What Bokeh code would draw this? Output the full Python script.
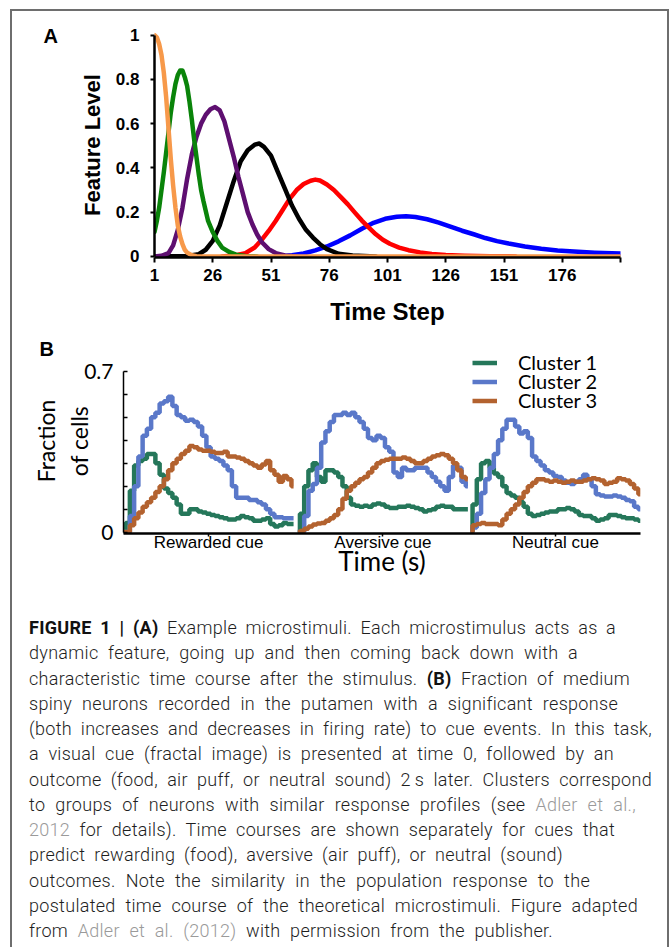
from bokeh.plotting import figure
from bokeh.models import FixedTicker, Legend, LegendItem, Range1d, Div
from bokeh.layouts import column, row
from bokeh.embed import file_html
from bokeh.resources import INLINE

# ---------------- Panel A data (microstimuli) ----------------
A_X_TICKS = [1, 26, 51, 76, 101, 126, 151, 176]
A_Y_TICKS = [0, 0.2, 0.4, 0.6, 0.8, 1]

orange_t = [1, 2, 3, 4, 5, 6, 7, 8, 9, 10, 11, 12, 13, 14, 15, 17, 19, 21, 201]
orange_v = [1.0, 0.99, 0.96, 0.91, 0.83, 0.72, 0.58, 0.44, 0.32, 0.22, 0.14, 0.09,
            0.055, 0.03, 0.017, 0.005, 0.001, 0.0, 0.0]

green_t = [1, 2, 3, 4, 5, 6, 7, 8, 9, 10, 11, 12, 13, 14, 15, 16, 17, 18, 19, 20,
           21, 22, 24, 26, 28, 30, 33, 36, 40, 45]
green_v = [0.11, 0.16, 0.22, 0.30, 0.38, 0.47, 0.56, 0.65, 0.72, 0.78, 0.82, 0.84,
           0.84, 0.81, 0.77, 0.70, 0.62, 0.53, 0.45, 0.37, 0.30, 0.25, 0.16, 0.11,
           0.07, 0.04, 0.02, 0.008, 0.002, 0.0]

purple_t = [1, 4, 7, 9, 11, 13, 15, 17, 19, 21, 23, 25, 27, 29, 31, 33, 35, 37, 39,
            41, 43, 45, 47, 50, 53, 57, 62]
purple_v = [0.0, 0.003, 0.015, 0.05, 0.12, 0.22, 0.35, 0.46, 0.54, 0.60, 0.64, 0.665,
            0.675, 0.66, 0.61, 0.53, 0.45, 0.36, 0.28, 0.20, 0.145, 0.10, 0.065,
            0.033, 0.015, 0.004, 0.0]

black_t = [1, 15, 20, 23, 26, 29, 32, 35, 38, 41, 44, 46, 48, 51, 54, 57, 60, 63,
           66, 69, 72, 75, 80, 86, 96]
black_v = [0.0, 0.002, 0.01, 0.03, 0.07, 0.14, 0.24, 0.34, 0.43, 0.48, 0.505, 0.51,
           0.495, 0.455, 0.38, 0.305, 0.23, 0.17, 0.12, 0.085, 0.055, 0.033, 0.012,
           0.004, 0.0]

red_t = [30, 36, 40, 44, 47, 50, 53, 56, 59, 62, 65, 68, 70, 72, 75, 78, 81, 84, 87,
         90, 93, 96, 99, 102, 106, 110, 115, 120, 126, 134, 145, 156]
red_v = [0.0, 0.005, 0.015, 0.04, 0.075, 0.115, 0.16, 0.21, 0.26, 0.30, 0.327, 0.342,
         0.347, 0.343, 0.325, 0.30, 0.268, 0.235, 0.198, 0.162, 0.13, 0.10, 0.075,
         0.057, 0.04, 0.028, 0.018, 0.011, 0.006, 0.003, 0.001, 0.0]

blue_t = [55, 60, 65, 70, 75, 80, 85, 90, 95, 100, 105, 109, 113, 118, 123, 128, 133,
          138, 143, 148, 153, 160, 167, 174, 181, 190, 201]
blue_v = [0.0, 0.005, 0.013, 0.027, 0.045, 0.068, 0.095, 0.125, 0.152, 0.17, 0.179,
          0.181, 0.178, 0.168, 0.153, 0.135, 0.116, 0.10, 0.083, 0.069, 0.058, 0.045,
          0.035, 0.027, 0.022, 0.017, 0.013]

A_SERIES = [  # drawing order: back to front
    (blue_t, blue_v, "#0000FF"),
    (red_t, red_v, "#FF0000"),
    (black_t, black_v, "#000000"),
    (purple_t, purple_v, "#5E0F70"),
    (green_t, green_v, "#0A840A"),
    (orange_t, orange_v, "#F7994A"),
]

# ---------------- Panel B data (fraction of cells) ----------------
CUES = ["Rewarded cue", "Aversive cue", "Neutral cue"]
SEG_OFFSETS = [0.0, 2.05, 4.08]
TIME_B = [0.0, 0.05, 0.1, 0.15, 0.2, 0.25, 0.3, 0.35, 0.4, 0.45, 0.5, 0.55, 0.6,
          0.65, 0.7, 0.75, 0.8, 0.85, 0.9, 0.95, 1.0, 1.05, 1.1, 1.15, 1.2, 1.25,
          1.3, 1.35, 1.4, 1.45, 1.5, 1.55, 1.6, 1.65, 1.7, 1.75, 1.8, 1.85, 1.9,
          1.95, 2.0]

cluster1 = [
    [0.0, 0.04, 0.18, 0.29, 0.31, 0.32, 0.34, 0.34, 0.30, 0.25, 0.19, 0.17, 0.15,
     0.12, 0.08, 0.08, 0.10, 0.10, 0.09, 0.085, 0.08, 0.075, 0.07, 0.065, 0.06,
     0.055, 0.055, 0.06, 0.07, 0.065, 0.06, 0.05, 0.05, 0.055, 0.06, 0.035, 0.025,
     0.03, 0.04, 0.035, 0.035],
    [0.0, 0.08, 0.20, 0.27, 0.30, 0.24, 0.22, 0.27, 0.27, 0.26, 0.24, 0.20, 0.15,
     0.12, 0.115, 0.11, 0.115, 0.11, 0.12, 0.125, 0.12, 0.11, 0.105, 0.105, 0.11,
     0.11, 0.115, 0.11, 0.105, 0.10, 0.09, 0.095, 0.10, 0.11, 0.115, 0.11, 0.11,
     0.10, 0.10, 0.10, 0.10],
    [0.0, 0.12, 0.23, 0.30, 0.31, 0.28, 0.255, 0.24, 0.20, 0.17, 0.16, 0.15, 0.13,
     0.11, 0.08, 0.07, 0.075, 0.08, 0.085, 0.09, 0.09, 0.10, 0.10, 0.105, 0.10,
     0.09, 0.075, 0.07, 0.07, 0.06, 0.05, 0.055, 0.06, 0.075, 0.075, 0.07, 0.065,
     0.06, 0.06, 0.055, 0.05],
]
cluster2 = [
    [0.0, 0.0, 0.07, 0.20, 0.33, 0.42, 0.45, 0.50, 0.52, 0.56, 0.57, 0.59, 0.55,
     0.51, 0.50, 0.485, 0.49, 0.48, 0.46, 0.42, 0.37, 0.33, 0.32, 0.31, 0.29, 0.27,
     0.20, 0.15, 0.15, 0.15, 0.14, 0.14, 0.13, 0.12, 0.10, 0.08, 0.065, 0.065,
     0.06, 0.06, 0.06],
    [0.0, 0.0, 0.07, 0.18, 0.21, 0.28, 0.39, 0.44, 0.48, 0.51, 0.51, 0.52, 0.51,
     0.52, 0.50, 0.48, 0.45, 0.41, 0.40, 0.42, 0.41, 0.37, 0.35, 0.26, 0.24, 0.28,
     0.27, 0.27, 0.28, 0.28, 0.28, 0.26, 0.24, 0.22, 0.20, 0.18, 0.24, 0.29, 0.28,
     0.22, 0.20],
    [0.0, 0.02, 0.08, 0.17, 0.23, 0.28, 0.34, 0.40, 0.45, 0.49, 0.49, 0.46, 0.43,
     0.44, 0.41, 0.33, 0.31, 0.29, 0.27, 0.26, 0.245, 0.24, 0.225, 0.215, 0.21,
     0.22, 0.23, 0.25, 0.23, 0.20, 0.165, 0.16, 0.155, 0.155, 0.16, 0.155, 0.15,
     0.14, 0.135, 0.11, 0.10],
]
cluster3 = [
    [0.0, 0.0, 0.03, 0.06, 0.085, 0.11, 0.13, 0.15, 0.175, 0.20, 0.23, 0.27, 0.30,
     0.32, 0.34, 0.355, 0.375, 0.37, 0.36, 0.355, 0.355, 0.35, 0.345, 0.345, 0.35,
     0.33, 0.33, 0.325, 0.32, 0.31, 0.30, 0.29, 0.28, 0.295, 0.31, 0.27, 0.25, 0.22,
     0.245, 0.23, 0.20],
    [0.0, 0.005, 0.015, 0.025, 0.033, 0.038, 0.04, 0.05, 0.06, 0.075, 0.10, 0.145,
     0.18, 0.20, 0.215, 0.23, 0.24, 0.26, 0.28, 0.30, 0.31, 0.315, 0.32, 0.32, 0.32,
     0.325, 0.32, 0.31, 0.30, 0.30, 0.31, 0.32, 0.33, 0.335, 0.34, 0.335, 0.32,
     0.30, 0.27, 0.24, 0.23],
    [0.0, 0.03, 0.035, 0.04, 0.035, 0.035, 0.035, 0.03, 0.055, 0.08, 0.10, 0.12,
     0.15, 0.175, 0.20, 0.215, 0.23, 0.23, 0.225, 0.22, 0.225, 0.22, 0.215, 0.22,
     0.225, 0.22, 0.22, 0.225, 0.23, 0.235, 0.23, 0.225, 0.21, 0.215, 0.22, 0.235,
     0.23, 0.225, 0.21, 0.19, 0.165],
]
CLUSTERS = [("Cluster 1", cluster1, "#25775A"),
            ("Cluster 2", cluster2, "#5A78C9"),
            ("Cluster 3", cluster3, "#B3622F")]
B_Y_MINOR = [0.1, 0.2, 0.3, 0.4, 0.5, 0.6]

CAPTION_LINES = [
    "<b>FIGURE 1 | (A)</b> Example microstimuli. Each microstimulus acts as a",
    "dynamic feature, going up and then coming back down with a",
    "characteristic time course after the stimulus. <b>(B)</b> Fraction of medium",
    "spiny neurons recorded in the putamen with a significant response",
    "(both increases and decreases in firing rate) to cue events. In this task,",
    "a visual cue (fractal image) is presented at time 0, followed by an",
    "outcome (food, air puff, or neutral sound) 2&#8201;s later. Clusters correspond",
    "to groups of neurons with similar response profiles (see <span class='ref'>Adler et al.,</span>",
    "<span class='ref'>2012</span> for details). Time courses are shown separately for cues that",
    "predict rewarding (food), aversive (air puff), or neutral (sound)",
    "outcomes. Note the similarity in the population response to the",
    "postulated time course of the theoretical microstimuli. Figure adapted",
    "from <span class='ref'>Adler et al. (2012)</span> with permission from the publisher.",
]
CAPTION_WIDTHS = [587, 549, 601, 589, 623, 585, 623, 607, 586, 534, 561, 609, 524]

FONT = "Liberation Sans"
FRAME_GRAY = "#6e6e6e"

# ---------------- Panel A ----------------
pa = figure(width=655, height=322, output_backend="svg", toolbar_location=None,
            x_range=Range1d(1, 201), y_range=Range1d(-0.005, 1.012),
            min_border_left=142, min_border_right=47, min_border_top=21,
            min_border_bottom=76, title="A")
pa.frame_align = False
for t, v, c in A_SERIES:
    pa.line(t, v, line_color=c, line_width=4.5, line_join="round", line_cap="round")

pa.title.align = "left"
pa.title.offset = -111
pa.title.standoff = -28
pa.title.text_font = FONT
pa.title.text_font_style = "bold"
pa.title.text_font_size = "20px"
pa.title.text_color = "black"

pa.xaxis.ticker = FixedTicker(ticks=A_X_TICKS, minor_ticks=[201])
pa.yaxis.ticker = FixedTicker(ticks=A_Y_TICKS)
pa.yaxis.major_label_overrides = {0: "0", 1: "1"}
pa.xaxis.bounds = (1, 201)
pa.yaxis.bounds = (0, 1)
for ax in (pa.xaxis, pa.yaxis):
    ax.axis_line_width = 2.5
    ax.axis_line_color = "black"
    ax.major_tick_line_width = 2
    ax.minor_tick_line_width = 2
    ax.major_tick_in = 0
    ax.minor_tick_in = 0
    ax.major_label_text_font = FONT
    ax.major_label_text_font_style = "bold"
    ax.major_label_text_font_size = "17px"
    ax.major_label_text_color = "black"
    ax.axis_label_text_font = FONT
    ax.axis_label_text_font_style = "bold"
    ax.axis_label_text_color = "black"
pa.xaxis.major_tick_out = 5
pa.xaxis.minor_tick_out = 5
pa.yaxis.major_tick_out = 4
pa.yaxis.minor_tick_out = 0
pa.xaxis.major_label_standoff = 6
pa.yaxis.major_label_standoff = 11
pa.xaxis.axis_label = "Time Step"
pa.xaxis.axis_label_text_font_size = "24px"
pa.xaxis.axis_label_standoff = 14
pa.yaxis.axis_label = "Feature Level"
pa.yaxis.axis_label_text_font_size = "22px"
pa.yaxis.axis_label_standoff = 8
pa.xgrid.visible = False
pa.ygrid.visible = False
pa.outline_line_color = None

# ---------------- Panel B ----------------
pb = figure(width=655, height=258, output_backend="svg", toolbar_location=None,
            x_range=Range1d(0, 6.08), y_range=Range1d(-0.006, 0.8),
            min_border_left=111, min_border_right=27, min_border_top=15,
            min_border_bottom=58, title="B")
pb.frame_align = False
pb.title.align = "left"
pb.title.offset = -84
pb.title.standoff = -23
pb.title.text_font = FONT
pb.title.text_font_style = "bold"
pb.title.text_font_size = "20px"
pb.title.text_color = "black"

legend_rows = []
for name, segs, color in CLUSTERS:
    rends = []
    for k, vals in enumerate(segs):
        xs = [t + SEG_OFFSETS[k] for t in TIME_B]
        r = pb.step(xs, vals, mode="center", line_color=color, line_width=4.5)
        rends.append(r)
    legend_rows.append(LegendItem(label=name, renderers=[rends[0]]))

cue_ticks = [1.0 + o for o in SEG_OFFSETS]
pb.xaxis.ticker = FixedTicker(ticks=cue_ticks)
pb.xaxis.major_label_overrides = {cue_ticks[i]: CUES[i] for i in range(3)}
pb.yaxis.ticker = FixedTicker(ticks=[0, 0.7], minor_ticks=B_Y_MINOR)
pb.yaxis.major_label_overrides = {0: "0"}
pb.yaxis.bounds = (0, 0.7)
pb.xaxis.bounds = (0, 6.08)
for ax in (pb.xaxis, pb.yaxis):
    ax.axis_line_color = "black"
    ax.major_tick_line_width = 1.5
    ax.minor_tick_line_width = 1.5
    ax.major_label_text_color = "black"
    ax.axis_label_text_color = "black"
    ax.axis_label_text_font_style = "normal"
pb.xaxis.axis_line_width = 2.5
pb.yaxis.axis_line_width = 1.5
pb.xaxis.major_tick_in = 0
pb.xaxis.major_tick_out = 3
pb.xaxis.major_label_standoff = -4
pb.xaxis.major_label_text_font = FONT
pb.xaxis.major_label_text_font_size = "17px"
pb.xaxis.axis_label = "Time (s)"
pb.xaxis.axis_label_text_font = "Lato"
pb.xaxis.axis_label_text_font_size = "26px"
pb.xaxis.axis_label_standoff = -10
pb.yaxis.major_tick_in = 4
pb.yaxis.major_tick_out = 0
pb.yaxis.minor_tick_in = 4
pb.yaxis.minor_tick_out = 0
pb.yaxis.major_label_standoff = 10
pb.yaxis.major_label_text_font = "Lato"
pb.yaxis.major_label_text_font_size = "21px"
pb.yaxis.axis_label = "Fraction\nof cells"
pb.yaxis.axis_label_text_font = "Lato"
pb.yaxis.axis_label_text_font_size = "23px"
pb.yaxis.axis_label_standoff = -12
pb.xgrid.visible = False
pb.ygrid.visible = False
pb.outline_line_color = None

# one single-row legend per cluster so the rows can sit as close as in the figure
LEGEND_OFFSETS = [159, 140, 121]
for item, vy in zip(legend_rows, LEGEND_OFFSETS):
    lg = Legend(items=[item], location=(349, vy), orientation="vertical",
                padding=0, margin=0, spacing=0, glyph_width=25, glyph_height=19,
                label_height=19, label_width=100, label_standoff=21,
                label_text_font="Lato", label_text_font_size="20px",
                label_text_color="black", background_fill_alpha=0,
                border_line_color=None)
    pb.add_layout(lg, "center")

# ---------------- Caption ----------------
line_divs = "".join(
    f"<div style='width:{w}px;height:25.25px;text-align:justify;"
    f"text-align-last:justify;'>{txt}</div>"
    for txt, w in zip(CAPTION_LINES, CAPTION_WIDTHS)
)
caption_html = (
    "<style>.ref{color:#9a9a9a;} b{font-weight:700;color:#111;}</style>"
    "<div style=\"font-family:Roboto, 'Liberation Sans', sans-serif; font-weight:300;"
    " font-size:18px; line-height:25.25px; color:#1e1e1e; word-spacing:0px;"
    " letter-spacing:0.3px; padding:24px 0 0 17px;\">"
    + line_divs + "</div>"
)
cap = Div(text=caption_html, width=655, height=356, margin=0)

inner = column(pa, pb, cap, spacing=0)
bar_style = {"background-color": FRAME_GRAY}
left_bar = Div(text="", width=2, height=936, margin=0, styles=bar_style)
right_bar = Div(text="", width=2, height=936, margin=0, styles=bar_style)
top_bar = Div(text="", width=659, height=2, margin=0, styles=bar_style)
middle = row(left_bar, inner, right_bar, spacing=0)
layout = column(top_bar, middle, spacing=0,
                styles={"margin-left": "10px", "margin-top": "9px"})

open("out.html", "w").write(file_html(layout, INLINE))
